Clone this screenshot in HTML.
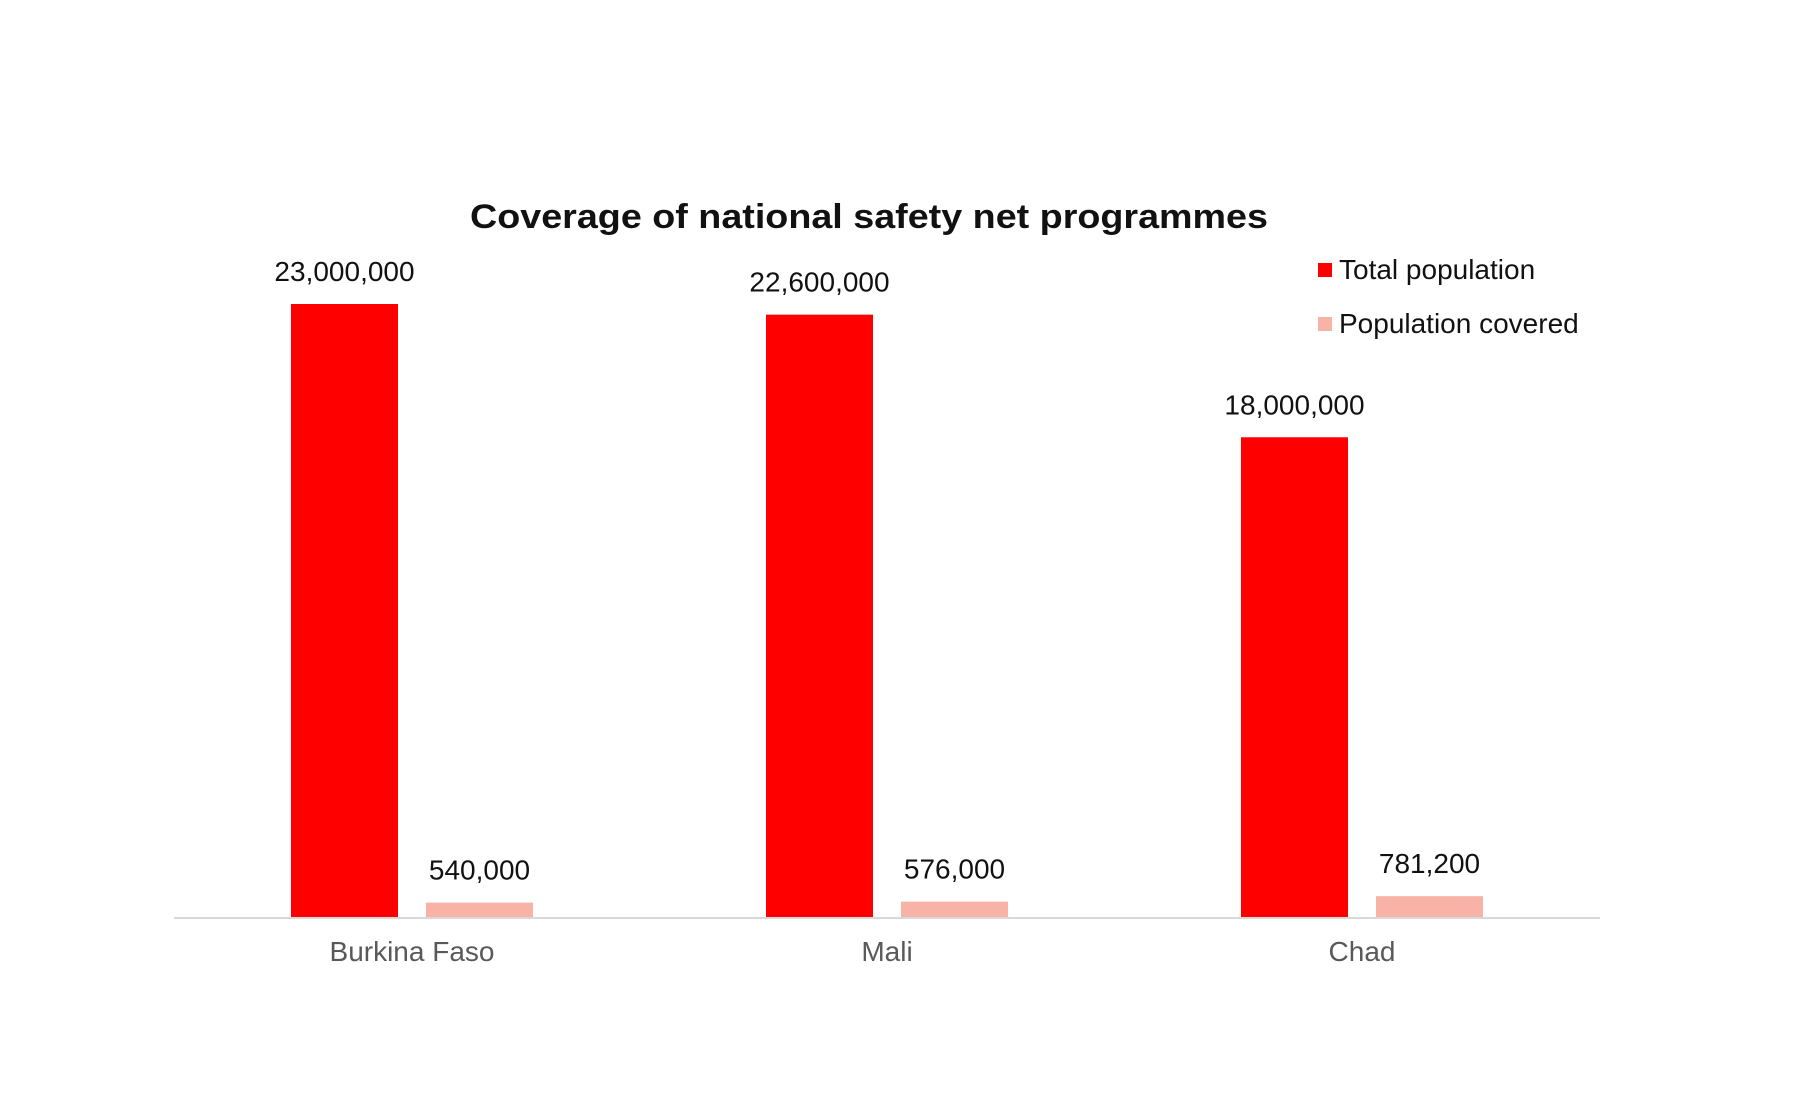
<!DOCTYPE html>
<html><head><meta charset="utf-8"><style>
html,body{margin:0;padding:0;background:#fff;}
svg{display:block;font-family:"Liberation Sans",Arial,sans-serif;}
</style></head><body>
<svg id="chart" width="1820" height="1110" viewBox="0 0 1820 1110">
<text x="869" y="228" text-anchor="middle" font-size="34" font-weight="bold" fill="#111" textLength="798" lengthAdjust="spacingAndGlyphs">Coverage of national safety net programmes</text>
<g>
<rect x="1318" y="263" width="14" height="14" fill="#ff0000"/>
<text x="1339" y="279" font-size="28" fill="#111">Total population</text>
<rect x="1318" y="317" width="14" height="14" fill="#f8b3a6"/>
<text x="1339" y="333" font-size="28" fill="#111">Population covered</text>
</g>
<g id="bars"></g>
<line x1="174" y1="918" x2="1600" y2="918" stroke="#d9d9d9" stroke-width="2"/>
</svg>
<script>
const categories = ["Burkina Faso", "Mali", "Chad"];
const totalPop = [23000000, 22600000, 18000000];
const covered = [540000, 576000, 781200];
const totalLabels = ["23,000,000", "22,600,000", "18,000,000"];
const coveredLabels = ["540,000", "576,000", "781,200"];

const baseY = 917, pxPerUnit = 613 / 23000000;
const groupStart = 174, groupW = 475;
function y(v){ return baseY - v * pxPerUnit; }
function gx(i){ return groupStart + groupW * i; }
const ns = "http://www.w3.org/2000/svg";
const g = document.getElementById('bars');
function mk(tag, attrs){ const e = document.createElementNS(ns, tag); for (const k in attrs) e.setAttribute(k, attrs[k]); g.appendChild(e); return e; }
categories.forEach((c, i) => {
  const x0 = gx(i);
  const rx = x0 + 117, px = x0 + 252, bw = 107;
  const r = mk('rect', {x: rx, y: y(totalPop[i]), width: bw, height: baseY - y(totalPop[i]), fill: '#ff0000'});
  
  
  const p = mk('rect', {x: px, y: y(covered[i]), width: bw, height: baseY - y(covered[i]), fill: '#f8b3a6'});
  
  
  const t1 = mk('text', {x: rx + bw/2, y: y(totalPop[i]) - 23, 'text-anchor': 'middle', 'font-size': 28, fill: '#111'});
  t1.textContent = totalLabels[i];
  
  
  const t2 = mk('text', {x: px + bw/2, y: y(covered[i]) - 23, 'text-anchor': 'middle', 'font-size': 28, fill: '#111'});
  t2.textContent = coveredLabels[i];
  
  
  const cl = mk('text', {x: (rx + px + bw)/2, y: 961, 'text-anchor': 'middle', 'font-size': 28, fill: '#595959'});
  cl.textContent = c;
  
  
});
</script>
</body></html>
